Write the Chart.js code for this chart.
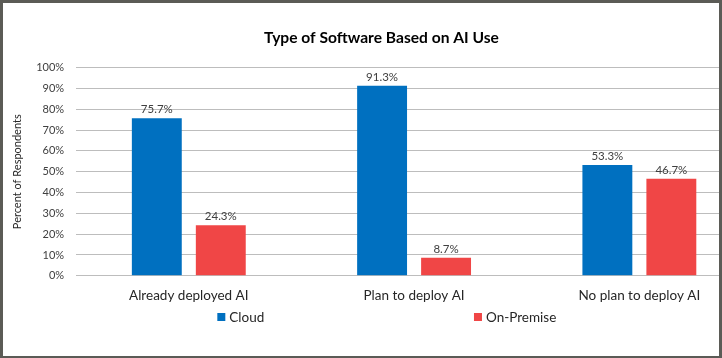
<!DOCTYPE html>
<html>
<head>
<meta charset="utf-8">
<script src="https://cdn.jsdelivr.net/npm/chart.js@4/dist/chart.umd.min.js"></script>
<style>
  html, body { margin: 0; padding: 0; background: #ffffff; }
  #frame { position: relative; width: 722px; height: 358px; overflow: hidden; background: #ffffff; }
  #box { position: absolute; left: 0; top: 0; width: 762px; height: 358px; }
  #border { position: absolute; left: 0; top: 0; width: 722px; height: 358px; box-sizing: border-box;
            border: 3px solid #5b5b56; border-bottom-width: 2px; pointer-events: none; }
</style>
</head>
<body>
<div id="frame">
  <div id="box"><canvas id="c"></canvas></div>
  <div id="border"></div>
</div>
<script>
const categories = ["Already deployed AI", "Plan to deploy AI", "No plan to deploy AI"];
const seriesNames = ["Cloud", "On-Premise"];
const cloudValues = [75.7, 91.3, 53.3];
const onPremiseValues = [24.3, 8.7, 46.7];
const yTicks = [0, 10, 20, 30, 40, 50, 60, 70, 80, 90, 100];
const titleText = "Type of Software Based on AI Use";
const yAxisTitle = "Percent of Respondents";

const FONT = "Lato, 'Open Sans', sans-serif";

const valueLabels = {
  id: 'valueLabels',
  afterDatasetsDraw(chart) {
    const ctx = chart.ctx;
    ctx.save();
    ctx.font = "11.5px " + FONT;
    ctx.fillStyle = "#404040";
    ctx.textAlign = "center";
    ctx.textBaseline = "bottom";
    chart.data.datasets.forEach((ds, i) => {
      chart.getDatasetMeta(i).data.forEach((bar, j) => {
        ctx.fillText(ds.data[j].toFixed(1) + "%", bar.x, bar.y - 3);
      });
    });
    ctx.restore();
  }
};

const spreadLegend = {
  id: 'spreadLegend',
  afterDraw(chart) {
    const ctx = chart.ctx;
    const fractions = [0.316, 0.676];
    const y = 317;
    ctx.save();
    ctx.font = "13.5px " + FONT;
    ctx.textBaseline = "middle";
    ctx.textAlign = "left";
    chart.data.datasets.forEach((ds, i) => {
      const tw = ctx.measureText(ds.label).width;
      const box = 8, gap = 4;
      const total = box + gap + tw;
      const x0 = chart.width * fractions[i] - total / 2;
      ctx.fillStyle = ds.backgroundColor;
      ctx.fillRect(x0, y - box / 2, box, box);
      ctx.fillStyle = "#262626";
      ctx.fillText(ds.label, x0 + box + gap, y + 1);
    });
    ctx.restore();
  }
};

new Chart(document.getElementById('c'), {
  type: 'bar',
  data: {
    labels: categories,
    datasets: [
      { label: seriesNames[0], data: cloudValues, backgroundColor: "#0070c0",
        categoryPercentage: 0.568, barPercentage: 0.78 },
      { label: seriesNames[1], data: onPremiseValues, backgroundColor: "#f04646",
        categoryPercentage: 0.568, barPercentage: 0.78 }
    ]
  },
  options: {
    responsive: true,
    maintainAspectRatio: false,
    animation: false,
    devicePixelRatio: 1,
    layout: { padding: { left: 11, right: 10, top: 0, bottom: 42 } },
    plugins: {
      legend: { display: false },
      tooltip: { enabled: false },
      title: {
        display: true,
        text: titleText,
        color: "#000000",
        font: { family: FONT, size: 15.6, weight: 'bold' },
        padding: { top: 29, bottom: 20 }
      }
    },
    scales: {
      x: {
        grid: { display: false, drawTicks: false },
        border: { display: true, color: "#bdbdbd", width: 1 },
        ticks: { color: "#262626", font: { family: FONT, size: 13.5 }, padding: 12, maxRotation: 0 }
      },
      y: {
        min: 0, max: 100,
        afterBuildTicks(axis) { axis.ticks = yTicks.map(v => ({ value: v })); },
        grid: { color: "#bdbdbd", lineWidth: 1, drawTicks: false },
        border: { display: false },
        ticks: { color: "#404040", font: { family: FONT, size: 11 }, padding: 12,
                 callback: v => v + "%" },
        title: { display: true, text: yAxisTitle, color: "#262626",
                 font: { family: FONT, size: 11 }, padding: { top: 0, bottom: 0 } }
      }
    }
  },
  plugins: [valueLabels, spreadLegend]
});
</script>
</body>
</html>
